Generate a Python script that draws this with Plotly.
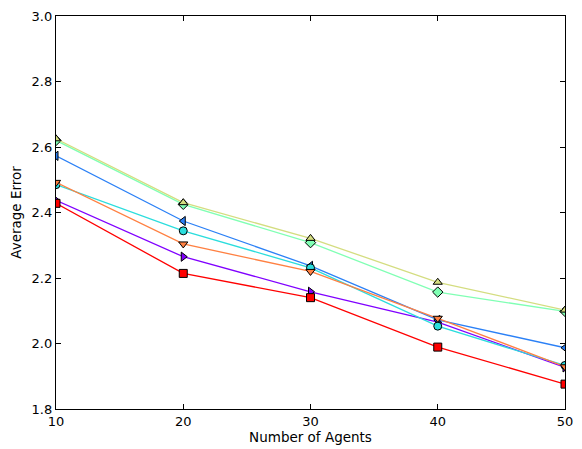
import plotly.graph_objects as go

agents = [10, 20, 30, 40, 50]
red_sq = [2.428, 2.214, 2.140, 1.989, 1.876]
purple_rt = [2.437, 2.265, 2.158, 2.065, 1.927]
orange_dt = [2.492, 2.304, 2.220, 2.077, 1.929]
cyan_ci = [2.485, 2.344, 2.231, 2.053, 1.933]
blue_lt = [2.573, 2.374, 2.237, 2.072, 1.987]
green_di = [2.620, 2.425, 2.308, 2.157, 2.098]
yellow_ut = [2.625, 2.430, 2.321, 2.187, 2.102]

series = [
    ("purple", purple_rt, "#8000ff", "triangle-right"),
    ("blue", blue_lt, "#2b80f6", "triangle-left"),
    ("cyan", cyan_ci, "#2bdddd", "circle"),
    ("green", green_di, "#80ffb4", "diamond"),
    ("yellow", yellow_ut, "#d4dd80", "triangle-up"),
    ("orange", orange_dt, "#ff8042", "triangle-down"),
    ("red", red_sq, "#ff0000", "square"),
]

fig = go.Figure()
for name, vals, col, sym in series:
    fig.add_trace(go.Scatter(
        x=agents, y=vals, mode="lines+markers", name=name,
        line=dict(color=col, width=1.3),
        marker=dict(symbol=sym, size=8, color=col, line=dict(color="black", width=1)),
        cliponaxis=True,
    ))

axis_common = dict(
    showline=True, linecolor="black", linewidth=1.3, mirror="ticks",
    ticks="inside", ticklen=5, tickcolor="black", showgrid=False, zeroline=False,
    automargin=False,
    tickfont=dict(family="DejaVu Sans", size=13, color="black"),
)
fig.update_layout(
    width=574, height=441,
    margin=dict(l=48, r=17, t=8, b=40),
    paper_bgcolor="white", plot_bgcolor="white",
    showlegend=False,
    font=dict(family="DejaVu Sans", color="black"),
    xaxis=dict(range=[10, 50], tickvals=[10, 20, 30, 40, 50],
               title=dict(text="Number of Agents", font=dict(size=13.5), standoff=4), **axis_common),
    yaxis=dict(range=[1.8, 3.0], tickvals=[1.8, 2.0, 2.2, 2.4, 2.6, 2.8, 3.0], tickformat=".1f",
               title=dict(text="Average Error", font=dict(size=13.5), standoff=9), **axis_common),
)
fig.write_html("out.html")
